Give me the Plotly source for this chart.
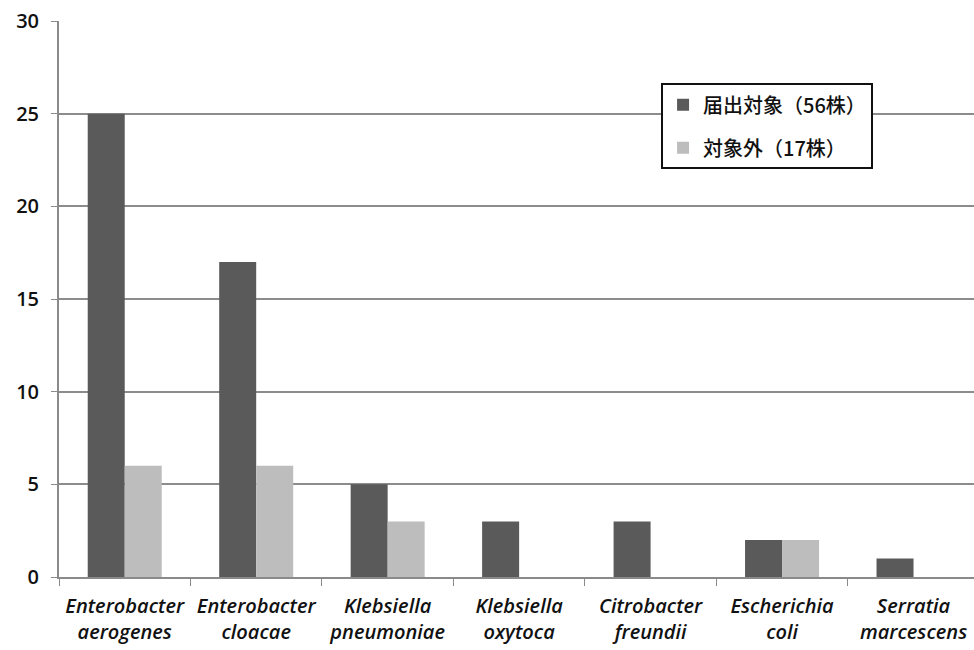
import plotly.graph_objects as go

categories = ["Enterobacter<br>aerogenes", "Enterobacter<br>cloacae", "Klebsiella<br>pneumoniae",
              "Klebsiella<br>oxytoca", "Citrobacter<br>freundii", "Escherichia<br>coli",
              "Serratia<br>marcescens"]
reported = [25, 17, 5, 3, 3, 2, 1]
excluded = [6, 6, 3, 0, 0, 2, 0]
name_reported = "届出対象（56株）"
name_excluded = "対象外（17株）"
y_ticks = [0, 5, 10, 15, 20, 25, 30]

font_family = "'Open Sans', 'Noto Sans CJK JP', sans-serif"

fig = go.Figure()
fig.add_trace(go.Bar(x=categories, y=reported, name=name_reported,
                     marker=dict(color="#5a5a5a", line=dict(width=0)), legendgroup="a"))
fig.add_trace(go.Bar(x=categories, y=excluded, name=name_excluded,
                     marker=dict(color="#bdbdbd", line=dict(width=0)), legendgroup="b"))

fig.update_layout(
    width=974, height=650,
    margin=dict(l=59, r=0, t=21, b=73),
    paper_bgcolor="white", plot_bgcolor="white",
    barmode="group", bargap=0.437, bargroupgap=0,
    font=dict(family=font_family, size=20, color="#111111"),
    showlegend=True,
    legend=dict(x=0.658, y=0.888, xanchor="left", yanchor="top",
                bordercolor="#111111", borderwidth=2, bgcolor="white",
                font=dict(family="'Noto Sans CJK JP', sans-serif", size=20, color="#111111",
                          weight=500),
                tracegroupgap=14, traceorder="grouped", itemwidth=30),
    xaxis=dict(range=[-0.5, 6.46], showline=True, linecolor="#8a8a8a", linewidth=2,
               ticks="outside", tickson="boundaries", ticklen=7, tickcolor="#8a8a8a",
               ticklabelstandoff=10, tickangle=0, automargin=False,
               tickfont=dict(family="'Open Sans', sans-serif", size=20, style="italic",
                             weight=600, color="#111111"),
               showgrid=False),
    yaxis=dict(range=[0, 30], tickvals=y_ticks, showline=True, linecolor="#8a8a8a", linewidth=2,
               ticks="outside", ticklen=6, tickcolor="#8a8a8a", ticklabelstandoff=8,
               automargin=False,
               showgrid=True, gridcolor="#8c8c8c", gridwidth=1.5, zeroline=False,
               tickfont=dict(family="'Open Sans', sans-serif", size=20, weight=600,
                             color="#111111")),
)

fig.write_html("out.html")
